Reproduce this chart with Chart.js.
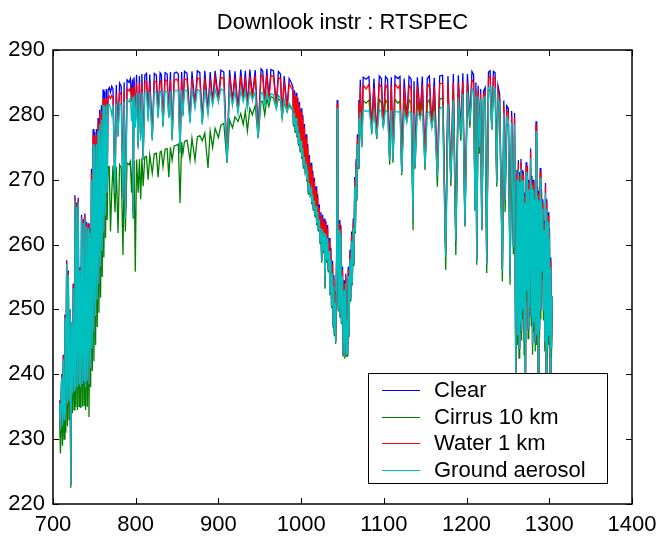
<!DOCTYPE html>
<html>
<head>
<meta charset="utf-8">
<script src="https://cdn.jsdelivr.net/npm/chart.js@4.4.1/dist/chart.umd.min.js"></script>
<style>
  html, body { margin: 0; padding: 0; background: #fff; }
</style>
</head>
<body>
<canvas id="grafica" width="661" height="538"></canvas>
<script>
const wavenumber = [
  708, 709, 710.5, 711.5, 712.5, 713.5, 714.5, 715.5, 716.5, 717.5, 718.5, 719.5, 720.5, 721.5, 722.5, 723.5,
  724.5, 725.5, 726.5, 727.5, 728.5, 729.5, 730.5, 731.5, 732.5, 733.5, 734.5, 735.5, 736.5, 737.5, 738.5, 739.5,
  740.5, 741.5, 742.5, 743.5, 744.5, 745.5, 746.5, 747.5, 748.5, 749.5, 750.5, 751.5, 752.5, 753.5, 754.5, 755.5,
  756.5, 757.5, 758.5, 759.5, 760.5, 761.5, 762.5, 763.5, 764.5, 765.5, 766.5,
  768, 769.5, 771, 772.5, 775, 776.5, 778.6, 780.5, 782.5, 784.6, 786, 787.5, 789.5, 792, 793.5, 795,
  796.2, 797, 798, 799.5, 801, 803, 804.5, 806, 807.5, 809, 811, 813, 815, 817, 820, 822.5,
  825, 827, 829.5, 831, 833, 835.5, 838, 840, 842, 844, 846.5, 849, 851.5, 853.6, 855.5, 857,
  859, 862, 865.7, 868, 871.7, 874.5, 877.5, 880.5, 883.5, 887.4, 890, 893, 896, 900, 903, 906.5,
  910.4, 913.5, 917, 920, 923.7, 927, 930, 932.5, 935, 938, 941, 944.5, 948, 951.5, 953.5, 956,
  958.5, 961, 963.5, 966.5, 970, 972.5, 975, 977, 979.5, 983, 985.5, 988,
  990, 990.8, 992, 992.8, 994, 994.8, 996, 996.8, 998, 998.8, 1000, 1000.8, 1002, 1002.8, 1004, 1004.8,
  1006, 1006.8, 1008, 1008.8, 1010, 1010.8, 1012, 1012.8, 1014, 1014.8, 1016, 1016.8, 1018, 1018.8, 1020, 1020.8,
  1022, 1022.8, 1024, 1024.8, 1026, 1026.8, 1028, 1028.8, 1030, 1030.8, 1032, 1032.8, 1034, 1034.8, 1036, 1036.8,
  1038, 1038.8, 1039.5, 1040.2, 1041, 1041.7, 1043, 1043.6, 1044.3, 1045, 1046, 1046.8, 1048, 1048.8, 1050, 1050.8,
  1052, 1052.8, 1054, 1054.8, 1055.5, 1056.2, 1057, 1057.8, 1059, 1059.8, 1061, 1061.8, 1063, 1063.8, 1064.8, 1065.5,
  1066.5, 1067.2, 1068, 1068.8, 1069.8, 1070.5,
  1071.5, 1073.2, 1075, 1078.5, 1082, 1085.4, 1088, 1091.4, 1094.5, 1097, 1099.4, 1102, 1104.5, 1107, 1109, 1111,
  1113.5, 1117, 1119.5, 1121.6, 1124.5, 1127.7, 1130.5, 1133, 1135.3, 1136.5, 1137.7, 1140.5, 1143.8, 1146.5, 1149.8, 1152.5,
  1155, 1158, 1161, 1164.7, 1167.5, 1171, 1174.8, 1177.5, 1181, 1184, 1187, 1190, 1193, 1195.5, 1198, 1201,
  1204, 1206.5, 1208.5, 1210.3, 1211.3, 1212.3, 1214, 1215.5, 1217, 1218.4, 1220.5, 1222.5, 1224.4, 1226.5, 1228.5, 1230.5,
  1232.5, 1234.5, 1236.5, 1238,
  1240, 1243.3, 1245, 1246.6, 1248.5, 1250.5, 1252.6, 1254.5, 1256.6, 1258, 1259.5,
  1261, 1261.8, 1262.6, 1263.4, 1264.2, 1265, 1265.8, 1266.5, 1267.2, 1268, 1268.8, 1269.6, 1270.4, 1271.2, 1272, 1272.8,
  1273.6, 1274.4, 1275.2, 1276, 1277.4, 1278.2, 1279, 1279.8, 1280.6, 1281.4, 1282.2, 1283, 1284, 1284.8, 1285.8, 1286.6,
  1287.4, 1288.2, 1289, 1289.8, 1290.6, 1291.4, 1292.2, 1293, 1293.8, 1294.6, 1295.4, 1296.2, 1297, 1297.8, 1298.6, 1299.4,
  1300.2, 1301, 1301.8, 1302.6, 1303.5
];

const clearSky = [
  236.0, 231.5, 240.0, 232.0, 243.0, 233.0, 249.2, 234.0, 257.6, 235.5, 256.0, 236.0, 250.0, 223.0, 248.0, 237.0,
  254.0, 237.5, 267.6, 238.0, 266.5, 238.0, 267.2, 238.5, 256.5, 238.0, 264.6, 238.5, 264.0, 239.0, 264.8, 238.0,
  263.5, 239.0, 263.3, 238.5, 262.5, 241.0, 271.7, 244.0, 277.8, 246.5, 277.3, 249.0, 277.8, 251.5, 279.5, 254.0,
  280.8, 256.6, 281.5, 259.0, 283.9, 261.8, 283.6, 264.5, 284.0, 268.0, 283.8,
  284.2, 283.5, 284.4, 284.0, 268.5, 284.6, 277.0, 284.9, 284.4, 267.5, 285.0, 264.5, 285.4, 285.0, 285.6, 283.0,
  285.5, 265.0, 285.8, 279.0, 286.2, 275.2, 286.0, 277.0, 286.3, 273.5, 286.1, 286.4, 280.0, 286.2, 276.5, 286.4,
  286.1, 280.0, 286.5, 286.2, 278.5, 286.5, 286.3, 280.0, 286.6, 276.5, 286.4, 286.6, 286.3, 274.5, 286.6, 280.2,
  286.7, 286.4, 279.2, 286.7, 281.5, 286.8, 286.5, 279.0, 286.8, 280.5, 286.6, 282.0, 286.8, 282.5, 286.9, 286.6,
  273.0, 286.9, 282.0, 286.7, 280.8, 287.0, 282.5, 286.8, 281.5, 287.0, 282.8, 286.9, 277.0, 287.1, 286.8, 282.0,
  287.1, 282.5, 287.0, 286.8, 281.5, 286.7, 286.3, 280.0, 286.0, 281.0, 285.6, 285.0,
  284.3, 278.5, 283.8, 277.5, 283.4, 276.8, 282.6, 275.5, 282.0, 274.5, 281.0, 273.5, 280.0, 272.0, 278.6, 271.5,
  277.0, 270.0, 275.5, 268.0, 273.8, 268.0, 272.6, 266.5, 271.4, 265.5, 270.3, 264.5, 269.0, 263.3, 267.8, 262.3,
  266.2, 260.5, 265.0, 257.5, 264.6, 259.0, 264.0, 253.5, 263.6, 257.5, 263.0, 256.0, 261.0, 252.5, 259.5, 250.5,
  257.5, 247.5, 255.3, 246.2, 252.8, 245.0, 260.0, 282.3, 258.0, 250.0, 263.8, 249.0, 263.0, 248.0, 256.6, 243.0,
  254.5, 242.7, 255.5, 243.0, 250.0, 243.0, 256.6, 246.0, 259.2, 251.5, 262.0, 254.0, 264.0, 257.0, 270.4, 262.0,
  273.2, 267.0, 277.0, 272.0, 282.3, 277.0,
  285.4, 275.5, 285.8, 285.5, 285.9, 278.0, 285.6, 276.8, 286.0, 285.6, 278.5, 285.9, 285.5, 273.3, 285.8, 273.3,
  286.0, 285.6, 285.9, 271.3, 285.6, 279.3, 285.9, 285.5, 264.3, 285.2, 272.3, 285.8, 279.8, 285.9, 272.3, 285.6,
  286.0, 278.3, 285.7, 270.8, 286.0, 286.1, 258.5, 286.0, 270.3, 286.3, 260.8, 286.1, 277.3, 286.4, 263.0, 286.3,
  279.3, 286.7, 286.2, 265.5, 285.0, 257.7, 284.5, 275.3, 284.0, 262.4, 283.6, 284.2, 257.2, 286.6, 286.8, 278.0,
  286.7, 286.5, 269.8, 284.5,
  283.2, 256.3, 282.2, 267.2, 281.4, 281.0, 255.3, 280.6, 259.8, 280.3, 239.0,
  271.5, 246.0, 273.0, 244.0, 271.2, 248.0, 273.2, 246.7, 271.5, 250.0, 271.2, 245.2, 268.0, 236.0, 272.7, 252.8,
  272.1, 247.0, 270.0, 250.3, 274.8, 249.0, 270.6, 244.5, 270.0, 248.0, 268.5, 245.0, 279.0, 246.0, 269.0, 238.0,
  268.3, 247.0, 271.8, 250.0, 268.5, 256.0, 267.0, 249.8, 263.7, 245.0, 269.5, 238.5, 267.0, 244.0, 265.0, 246.0,
  262.5, 240.0, 258.0, 244.0, 252.0
];

const cirrus10km = [
  233.0, 227.8, 236.0, 229.0, 238.0, 230.0, 244.0, 231.0, 250.0, 232.0, 249.0, 233.0, 246.0, 222.5, 244.0, 234.0,
  248.0, 234.5, 255.0, 235.0, 254.0, 234.5, 255.0, 235.0, 250.0, 234.8, 253.0, 235.0, 253.0, 235.2, 254.0, 234.5,
  253.0, 235.0, 253.0, 233.4, 252.0, 238.0, 258.0, 240.5, 262.0, 242.0, 263.0, 244.5, 264.0, 247.3, 266.0, 249.5,
  267.0, 251.8, 268.0, 255.0, 270.0, 258.0, 271.7, 261.0, 272.0, 263.8, 272.0,
  272.0, 262.0, 268.0, 272.2, 265.0, 272.0, 261.8, 272.3, 271.8, 258.4, 272.4, 262.0, 272.6, 272.3, 272.8, 268.0,
  272.8, 264.0, 273.0, 255.8, 273.1, 268.0, 273.2, 267.0, 273.4, 269.0, 273.5, 273.6, 270.0, 273.8, 271.0, 274.0,
  274.1, 270.4, 274.3, 274.4, 272.0, 274.7, 274.8, 270.4, 275.0, 273.0, 275.2, 275.3, 275.5, 266.4, 275.8, 274.0,
  275.9, 276.1, 273.0, 276.4, 273.0, 276.6, 276.8, 276.0, 277.2, 271.8, 277.5, 275.0, 277.9, 276.5, 278.4, 278.7,
  272.6, 279.2, 278.0, 279.7, 279.0, 280.2, 278.5, 280.6, 277.5, 281.0, 280.0, 281.5, 276.4, 282.0, 282.1, 280.0,
  282.5, 281.3, 282.8, 282.6, 281.0, 282.5, 282.2, 279.5, 282.0, 280.5, 281.5, 281.0,
  280.7, 278.2, 280.0, 277.2, 279.2, 276.5, 278.0, 275.2, 276.9, 274.2, 275.7, 273.2, 274.5, 271.7, 273.2, 271.2,
  271.9, 269.7, 270.5, 267.7, 269.2, 267.7, 268.3, 266.2, 267.4, 265.2, 266.5, 264.2, 265.6, 263.0, 264.7, 262.0,
  263.5, 260.2, 262.3, 257.2, 262.0, 258.7, 261.5, 253.2, 261.2, 257.2, 260.7, 255.7, 258.7, 252.2, 257.2, 250.2,
  255.2, 247.2, 253.2, 245.9, 250.7, 244.7, 258.2, 280.8, 256.8, 249.7, 262.0, 248.7, 261.2, 247.7, 254.8, 242.7,
  252.7, 242.4, 253.7, 242.7, 248.2, 242.7, 254.8, 245.7, 257.4, 251.2, 260.2, 253.7, 262.2, 256.7, 268.6, 261.7,
  271.4, 266.7, 275.2, 271.7, 279.5, 276.8,
  281.8, 275.0, 282.2, 281.8, 282.3, 277.0, 282.0, 276.3, 282.4, 281.9, 278.0, 282.3, 281.8, 272.3, 282.2, 272.6,
  282.4, 281.8, 282.2, 270.7, 282.0, 279.0, 282.3, 281.8, 262.2, 281.6, 271.7, 282.1, 279.5, 282.3, 271.5, 281.9,
  282.3, 278.0, 282.1, 268.9, 282.4, 282.6, 256.1, 282.9, 269.0, 283.1, 258.4, 283.3, 276.0, 283.6, 262.8, 283.8,
  278.0, 284.0, 283.7, 265.3, 282.8, 256.9, 282.6, 274.0, 282.4, 262.2, 282.4, 282.7, 255.6, 283.7, 283.9, 277.7,
  283.8, 283.6, 268.9, 282.3,
  280.8, 254.3, 279.5, 265.0, 278.6, 278.2, 253.8, 277.5, 258.5, 277.0, 238.5,
  268.5, 244.5, 270.0, 242.5, 268.2, 246.5, 270.2, 245.2, 268.5, 248.5, 268.2, 243.0, 265.0, 234.5, 269.7, 251.3,
  269.1, 245.5, 267.0, 248.8, 271.8, 247.5, 267.6, 243.0, 267.0, 246.5, 265.5, 243.5, 276.0, 244.5, 266.0, 236.5,
  265.3, 245.5, 268.8, 248.5, 265.5, 254.5, 264.0, 248.3, 260.7, 243.5, 266.5, 237.0, 264.0, 242.5, 262.0, 244.5,
  259.5, 238.5, 255.0, 242.5, 250.5
];

const water1km = [
  235.8, 231.5, 239.8, 232.0, 242.8, 233.0, 249.0, 234.0, 257.3, 235.5, 255.7, 236.0, 250.0, 223.0, 248.0, 237.0,
  253.7, 237.5, 267.2, 238.0, 266.2, 238.0, 266.9, 238.5, 256.3, 238.0, 264.3, 238.5, 263.7, 239.0, 264.5, 238.0,
  263.2, 239.0, 263.0, 238.5, 262.2, 241.0, 271.0, 244.0, 277.0, 246.5, 276.6, 249.0, 277.0, 251.5, 278.8, 254.0,
  280.0, 256.6, 280.6, 259.0, 282.6, 261.8, 282.4, 264.5, 282.6, 268.0, 282.5,
  282.9, 282.5, 283.0, 282.7, 268.3, 283.2, 276.8, 283.5, 283.1, 267.2, 283.6, 264.2, 284.0, 283.7, 284.2, 282.0,
  284.2, 264.8, 284.6, 278.5, 285.0, 275.0, 284.8, 276.5, 285.1, 273.2, 285.0, 285.2, 279.5, 285.0, 276.2, 285.2,
  285.0, 279.7, 285.3, 285.1, 278.3, 285.4, 285.2, 279.7, 285.4, 276.2, 285.3, 285.5, 285.2, 274.2, 285.5, 280.0,
  285.6, 285.4, 279.0, 285.6, 281.2, 285.7, 285.5, 278.7, 285.7, 280.2, 285.6, 281.7, 285.8, 282.2, 285.8, 285.6,
  272.8, 285.9, 281.7, 285.7, 280.5, 286.0, 282.2, 285.8, 281.2, 286.0, 282.5, 286.0, 276.7, 286.2, 285.9, 281.7,
  286.2, 282.2, 286.1, 285.9, 281.2, 285.8, 285.5, 279.7, 285.2, 280.7, 284.8, 284.2,
  283.8, 278.5, 283.3, 277.5, 282.9, 276.8, 282.1, 275.5, 281.5, 274.5, 280.5, 273.5, 279.5, 272.0, 278.1, 271.5,
  276.5, 270.0, 275.0, 268.0, 273.3, 268.0, 272.1, 266.5, 270.9, 265.5, 269.8, 264.5, 268.5, 263.3, 267.3, 262.3,
  265.7, 260.5, 264.5, 257.5, 264.1, 259.0, 263.5, 253.5, 263.1, 257.5, 262.5, 256.0, 260.5, 252.5, 259.0, 250.5,
  257.0, 247.5, 254.8, 246.2, 252.3, 245.0, 259.5, 281.8, 257.5, 250.0, 263.3, 249.0, 262.5, 248.0, 256.1, 243.0,
  254.0, 242.7, 255.0, 243.0, 249.5, 243.0, 256.1, 246.0, 258.7, 251.5, 261.5, 254.0, 263.5, 257.0, 269.9, 262.0,
  272.7, 267.0, 276.5, 272.0, 281.8, 277.0,
  284.3, 275.2, 284.6, 284.0, 284.7, 277.9, 284.2, 276.6, 284.8, 284.2, 278.3, 284.7, 284.0, 273.1, 284.5, 273.1,
  284.8, 284.1, 284.6, 271.1, 284.3, 279.1, 284.6, 284.0, 264.1, 283.8, 272.1, 284.5, 279.6, 284.6, 272.1, 284.2,
  284.8, 278.1, 284.4, 270.6, 284.8, 284.9, 258.3, 284.8, 270.1, 285.0, 260.6, 284.9, 277.1, 285.2, 262.9, 285.0,
  279.1, 285.4, 285.0, 265.4, 284.0, 257.6, 283.6, 275.1, 283.2, 262.3, 283.0, 283.4, 257.1, 285.8, 285.9, 277.8,
  285.9, 285.6, 269.6, 283.8,
  282.5, 256.2, 281.4, 267.0, 280.6, 280.3, 255.2, 279.8, 259.7, 279.6, 239.0,
  271.0, 246.0, 272.5, 244.0, 270.7, 248.0, 272.7, 246.7, 271.0, 250.0, 270.7, 245.2, 267.5, 236.0, 272.2, 252.8,
  271.6, 247.0, 269.5, 250.3, 274.3, 249.0, 270.1, 244.5, 269.5, 248.0, 268.0, 245.0, 278.5, 246.0, 268.5, 238.0,
  267.8, 247.0, 271.3, 250.0, 268.0, 256.0, 266.5, 249.8, 263.2, 245.0, 269.0, 238.5, 266.5, 244.0, 264.5, 246.0,
  262.0, 240.0, 257.5, 244.0, 252.0
];

const groundAerosol = [
  235.5, 231.4, 239.5, 232.0, 242.3, 233.0, 248.7, 234.0, 257.0, 235.5, 255.3, 236.0, 250.0, 223.0, 248.0, 237.0,
  253.3, 237.5, 266.8, 238.0, 265.8, 238.0, 266.5, 238.5, 256.0, 238.0, 264.0, 238.5, 263.3, 239.0, 264.0, 238.0,
  262.8, 239.0, 262.5, 238.5, 261.8, 241.0, 270.0, 244.0, 275.5, 246.5, 275.2, 249.0, 275.5, 251.5, 277.5, 254.0,
  278.5, 256.6, 279.2, 259.0, 281.5, 261.8, 281.3, 264.5, 281.6, 268.0, 281.5,
  281.6, 281.0, 280.0, 281.5, 268.0, 281.7, 276.6, 281.9, 281.5, 267.0, 282.0, 264.0, 282.3, 282.0, 282.6, 279.0,
  282.7, 264.5, 283.0, 278.0, 283.4, 274.7, 283.3, 276.0, 283.5, 273.0, 283.4, 283.6, 279.0, 283.5, 276.0, 283.6,
  283.4, 279.5, 283.7, 283.5, 278.1, 283.7, 283.6, 279.5, 283.7, 276.0, 283.6, 283.8, 283.6, 274.0, 283.8, 279.7,
  283.9, 283.7, 278.7, 283.9, 281.0, 283.9, 283.7, 278.5, 283.9, 280.0, 283.8, 281.5, 283.9, 282.0, 284.0, 283.7,
  272.6, 283.9, 281.5, 283.6, 280.2, 283.8, 282.0, 283.6, 281.0, 283.7, 282.3, 283.5, 276.4, 283.5, 283.3, 281.5,
  283.4, 282.0, 283.3, 283.1, 281.0, 283.0, 282.6, 279.5, 282.3, 280.5, 281.8, 281.2,
  281.0, 278.5, 280.3, 277.5, 279.5, 276.8, 278.3, 275.5, 277.2, 274.5, 276.0, 273.5, 274.8, 272.0, 273.5, 271.5,
  272.2, 270.0, 270.8, 268.0, 269.5, 268.0, 268.6, 266.5, 267.7, 265.5, 266.8, 264.5, 265.9, 263.3, 265.0, 262.3,
  263.8, 260.5, 262.6, 257.5, 262.3, 259.0, 261.8, 253.5, 261.5, 257.5, 261.0, 256.0, 259.0, 252.5, 257.5, 250.5,
  255.5, 247.5, 253.5, 246.2, 251.0, 245.0, 258.5, 281.0, 257.0, 250.0, 262.3, 249.0, 261.5, 248.0, 255.1, 243.0,
  253.0, 242.7, 254.0, 243.0, 248.5, 243.0, 255.1, 246.0, 257.7, 251.5, 260.5, 254.0, 262.5, 257.0, 268.9, 262.0,
  271.7, 267.0, 275.5, 272.0, 279.5, 277.0,
  280.4, 275.0, 280.8, 280.5, 280.7, 277.7, 280.5, 276.5, 280.8, 280.5, 278.2, 280.7, 280.4, 273.0, 280.7, 273.0,
  280.6, 280.4, 280.6, 271.0, 280.4, 279.0, 280.5, 280.3, 264.0, 280.2, 272.0, 280.4, 279.5, 280.5, 272.0, 280.3,
  280.5, 278.0, 280.6, 270.5, 280.9, 281.3, 258.1, 281.8, 270.0, 282.3, 260.5, 282.7, 277.0, 283.2, 262.8, 283.6,
  279.0, 284.0, 283.8, 265.3, 283.0, 257.5, 282.8, 275.0, 282.5, 262.2, 282.5, 282.8, 257.0, 284.2, 284.4, 277.7,
  284.3, 284.1, 269.5, 282.8,
  281.5, 256.0, 280.3, 266.9, 279.6, 279.2, 255.0, 278.8, 259.6, 278.5, 239.0,
  270.0, 246.0, 271.5, 244.0, 269.7, 248.0, 271.7, 246.7, 270.0, 250.0, 269.7, 245.2, 266.5, 236.0, 271.2, 252.8,
  270.6, 247.0, 268.5, 250.3, 273.3, 249.0, 269.1, 244.5, 268.5, 248.0, 267.0, 245.0, 277.5, 246.0, 267.5, 238.0,
  266.8, 247.0, 270.3, 250.0, 267.0, 256.0, 265.5, 249.8, 262.2, 245.0, 268.0, 238.5, 265.5, 244.0, 263.5, 246.0,
  261.0, 240.0, 256.5, 244.0, 252.0
];

const xTicks = { min: 700, max: 1400, step: 100 };
const yTicks = { min: 220, max: 290, step: 10 };
const titulo = 'Downlook instr : RTSPEC';

const fuente = "'Liberation Sans', Arial, Helvetica, sans-serif";

const series = [
  { label: 'Clear', values: clearSky, color: '#0000ff', order: 3 },
  { label: 'Cirrus 10 km', values: cirrus10km, color: '#008000', order: 2 },
  { label: 'Water 1 km', values: water1km, color: '#ff0000', order: 1 },
  { label: 'Ground aerosol', values: groundAerosol, color: '#00bfbf', order: 0 }
];

// Titulo, marco, marcas hacia dentro y leyenda tipo matlab
const marcoPlugin = {
  id: 'marco',
  afterDatasetsDraw(chart) {
    const { ctx, chartArea: a, scales } = chart;
    ctx.save();

    ctx.fillStyle = '#000';
    ctx.font = '22px ' + fuente;
    ctx.textAlign = 'center';
    ctx.textBaseline = 'middle';
    ctx.fillText(titulo, (a.left + a.right) / 2, 23);

    ctx.strokeStyle = '#000';
    ctx.lineWidth = 1;
    ctx.beginPath();
    scales.x.ticks.forEach(t => {
      const px = Math.round(scales.x.getPixelForValue(t.value)) + 0.5;
      ctx.moveTo(px, a.bottom); ctx.lineTo(px, a.bottom - 6);
      ctx.moveTo(px, a.top); ctx.lineTo(px, a.top + 6);
    });
    scales.y.ticks.forEach(t => {
      const py = Math.round(scales.y.getPixelForValue(t.value)) + 0.5;
      ctx.moveTo(a.left, py); ctx.lineTo(a.left + 6, py);
      ctx.moveTo(a.right, py); ctx.lineTo(a.right - 6, py);
    });
    ctx.stroke();
    ctx.lineWidth = 1.5;
    ctx.strokeRect(a.left, a.top, a.right - a.left, a.bottom - a.top);

    // leyenda
    const x0 = a.right - 264, y0 = a.bottom - 131, w = 239, h = 110;
    ctx.fillStyle = '#fff';
    ctx.fillRect(x0, y0, w, h);
    ctx.lineWidth = 1;
    ctx.strokeStyle = '#000';
    ctx.strokeRect(x0 + 0.5, y0 + 0.5, w, h);
    ctx.font = '22px ' + fuente;
    ctx.textBaseline = 'middle';
    ctx.textAlign = 'left';
    series.forEach((s, i) => {
      const yy = Math.round(y0 + 17 + i * 26.7);
      ctx.fillStyle = s.color;
      ctx.fillRect(x0 + 14, yy, 38, 1);
      ctx.fillStyle = '#000';
      ctx.fillText(s.label, x0 + 66, yy + 1);
    });
    ctx.restore();
  }
};

new Chart(document.getElementById('grafica'), {
  type: 'line',
  data: {
    datasets: series.map(s => ({
      label: s.label,
      data: wavenumber.map((x, i) => ({ x: x, y: s.values[i] })),
      borderColor: s.color,
      backgroundColor: s.color,
      borderWidth: 1.3,
      pointRadius: 0,
      tension: 0,
      fill: false,
      order: s.order
    }))
  },
  options: {
    responsive: false,
    animation: false,
    layout: { padding: { left: 0, right: 29, top: 50, bottom: 0 } },
    plugins: {
      legend: { display: false },
      tooltip: { enabled: false },
      title: { display: false }
    },
    scales: {
      x: {
        type: 'linear',
        min: xTicks.min,
        max: xTicks.max,
        grid: { display: false },
        border: { display: false },
        ticks: {
          stepSize: xTicks.step,
          autoSkip: false,
          maxRotation: 0,
          color: '#000',
          padding: 0,
          font: { family: fuente, size: 22 },
          callback: v => String(v)
        },
        afterFit(s) { s.height = 34; }
      },
      y: {
        min: yTicks.min,
        max: yTicks.max,
        grid: { display: false },
        border: { display: false },
        ticks: {
          stepSize: yTicks.step,
          color: '#000',
          padding: 0,
          font: { family: fuente, size: 22 },
          callback: v => String(v)
        },
        afterFit(s) { s.width = 53; }
      }
    }
  },
  plugins: [marcoPlugin]
});
</script>
</body>
</html>
